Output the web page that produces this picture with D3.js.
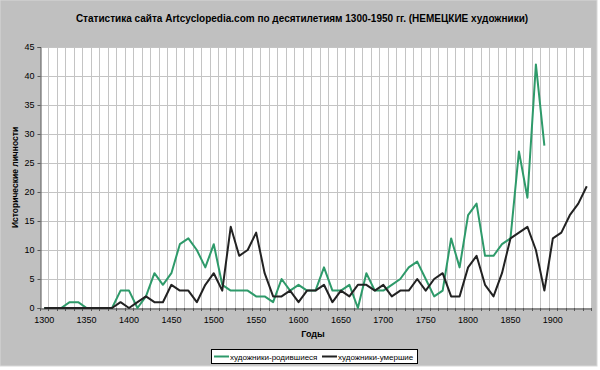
<!DOCTYPE html>
<html>
<head>
<meta charset="utf-8">
<script src="https://cdn.jsdelivr.net/npm/d3@7"></script>
<style>
    body { margin: 0; background: #fff; }
    #chart { width: 600px; height: 370px; }
    text { font-family: "Liberation Sans", Arial, sans-serif; fill: #000; }
</style>
</head>
<body>
<div id="chart"></div>
<script>
//Datos (por década)
const decadas = [1300, 1310, 1320, 1330, 1340, 1350, 1360, 1370, 1380, 1390,
    1400, 1410, 1420, 1430, 1440, 1450, 1460, 1470, 1480, 1490,
    1500, 1510, 1520, 1530, 1540, 1550, 1560, 1570, 1580, 1590,
    1600, 1610, 1620, 1630, 1640, 1650, 1660, 1670, 1680, 1690,
    1700, 1710, 1720, 1730, 1740, 1750, 1760, 1770, 1780, 1790,
    1800, 1810, 1820, 1830, 1840, 1850, 1860, 1870, 1880, 1890,
    1900, 1910, 1920, 1930, 1940];

//художники-родившиеся (1300-1890)
const nacidos = [0, 0, 0, 1, 1, 0, 0, 0, 0, 3,
    3, 0, 2, 6, 4, 6, 11, 12, 10, 7,
    11, 4, 3, 3, 3, 2, 2, 1, 5, 3,
    4, 3, 3, 7, 3, 3, 4, 0, 6, 3,
    3, 4, 5, 7, 8, 5, 2, 3, 12, 7,
    16, 18, 9, 9, 11, 12, 27, 19, 42, 28];

//художники-умершие (1300-1940)
const muertos = [0, 0, 0, 0, 0, 0, 0, 0, 0, 1,
    0, 1, 2, 1, 1, 4, 3, 3, 1, 4,
    6, 3, 14, 9, 10, 13, 6, 2, 2, 3,
    1, 3, 3, 4, 1, 3, 2, 4, 4, 3,
    4, 2, 3, 3, 5, 3, 5, 6, 2, 2,
    7, 9, 4, 2, 6, 12, 13, 14, 10, 3,
    12, 13, 16, 18, 21];

const yTicks = [0, 5, 10, 15, 20, 25, 30, 35, 40, 45];
const xLabels = [1300, 1350, 1400, 1450, 1500, 1550, 1600, 1650, 1700, 1750, 1800, 1850, 1900];

//Colores fijos
const COLOR_NACIDOS = '#2e9a6a',
COLOR_MUERTOS = '#222222',
COLOR_FONDO = '#c0c0c0',
COLOR_GRID = '#c4c4c4';

let margin = {top: 47, right: 9, bottom: 62, left: 40},
    width = 600 - margin.left - margin.right,
    height = 370 - margin.top - margin.bottom;

let svg = d3.select('#chart')
    .append('svg')
        .attr('width', 600)
        .attr('height', 370);

//Fondo gris del gráfico
svg.append('rect')
    .attr('x', 0).attr('y', 0)
    .attr('width', 597).attr('height', 366)
    .attr('fill', COLOR_FONDO)
    .attr('stroke', '#d8d8d8');

svg.append('text')
    .attr('x', 302)
    .attr('y', 22)
    .attr('text-anchor', 'middle')
    .style('font-size', '10px')
    .style('font-weight', 'bold')
    .text('Статистика сайта Artcyclopedia.com по десятилетиям 1300-1950 гг. (НЕМЕЦКИЕ художники)');

let g = svg.append('g')
    .attr('transform', 'translate(' + margin.left + ',' + margin.top + ')');

g.append('rect')
    .attr('width', width)
    .attr('height', height)
    .attr('fill', '#fff');

let x = d3.scaleBand()
    .domain(decadas)
    .range([0, width])
    .padding(0);

let y = d3.scaleLinear()
    .domain([0, 45])
    .range([height, 0]);

let cx = function(d) { return x(d) + x.bandwidth() / 2; };

//Rejilla vertical (límites de categoría)
let bordes = decadas.map(function(d) { return x(d); }).concat([width]);

g.append('g')
    .selectAll('line')
    .data(bordes)
    .enter()
    .append('line')
    .attr('x1', function(d) { return Math.round(d) + 0.5; })
    .attr('x2', function(d) { return Math.round(d) + 0.5; })
    .attr('y1', 0)
    .attr('y2', height)
    .attr('stroke', COLOR_GRID)
    .attr('stroke-width', 1);

//Rejilla horizontal
g.append('g')
    .selectAll('line')
    .data(yTicks)
    .enter()
    .append('line')
    .attr('x1', 0)
    .attr('x2', width)
    .attr('y1', function(d) { return Math.round(y(d)) + 0.5; })
    .attr('y2', function(d) { return Math.round(y(d)) + 0.5; })
    .attr('stroke', COLOR_GRID)
    .attr('stroke-width', 1);

//Eje Y
let yAxis = g.append('g')
    .attr('transform', 'translate(0.5,0)')
    .call(d3.axisLeft(y).tickValues(yTicks).tickSize(3).tickPadding(3));
yAxis.select('.domain').attr('stroke', '#555');
yAxis.selectAll('.tick line').attr('stroke', '#555');
yAxis.selectAll('.tick text')
    .style('font-size', '9px')
    .style('font-family', '"Liberation Sans", Arial, sans-serif');

//Eje X
let xAxis = g.append('g')
    .attr('transform', 'translate(0,' + (height + 0.5) + ')')
    .call(d3.axisBottom(x).tickValues(xLabels).tickSize(0).tickPadding(8));
xAxis.select('.domain').attr('stroke', '#555');
xAxis.selectAll('.tick text')
    .style('font-size', '9px')
    .style('font-family', '"Liberation Sans", Arial, sans-serif');

g.append('g')
    .selectAll('line')
    .data(bordes)
    .enter()
    .append('line')
    .attr('x1', function(d) { return Math.round(d) + 0.5; })
    .attr('x2', function(d) { return Math.round(d) + 0.5; })
    .attr('y1', height)
    .attr('y2', height + 3)
    .attr('stroke', '#555');

//Títulos de ejes
svg.append('text')
    .attr('transform', 'translate(18,' + (margin.top + height / 2) + ') rotate(-90)')
    .attr('text-anchor', 'middle')
    .style('font-size', '8.5px')
    .style('font-weight', 'bold')
    .text('Исторические личности');

svg.append('text')
    .attr('x', 313)
    .attr('y', 337)
    .attr('text-anchor', 'middle')
    .style('font-size', '9px')
    .style('font-weight', 'bold')
    .text('Годы');

//Líneas
let linea = d3.line()
    .x(function(d) { return cx(d.decada); })
    .y(function(d) { return y(d.valor); });

let serieNacidos = nacidos.map(function(v, i) { return {decada: decadas[i], valor: v}; });
let serieMuertos = muertos.map(function(v, i) { return {decada: decadas[i], valor: v}; });

g.append('path')
    .datum(serieNacidos)
    .attr('fill', 'none')
    .attr('stroke', COLOR_NACIDOS)
    .attr('stroke-width', 2)
    .attr('stroke-linejoin', 'round')
    .attr('d', linea);

g.append('path')
    .datum(serieMuertos)
    .attr('fill', 'none')
    .attr('stroke', COLOR_MUERTOS)
    .attr('stroke-width', 2)
    .attr('stroke-linejoin', 'round')
    .attr('d', linea);

//Leyenda
let leyenda = svg.append('g').attr('transform', 'translate(211,349)');
leyenda.append('rect')
    .attr('x', 0.5).attr('y', 0.5)
    .attr('width', 206).attr('height', 14)
    .attr('fill', '#fff')
    .attr('stroke', '#000');

let items = [
    {nombre: 'художники-родившиеся', color: COLOR_NACIDOS, x: 3},
    {nombre: 'художники-умершие', color: COLOR_MUERTOS, x: 111}
];

items.forEach(function(d) {
    leyenda.append('line')
        .attr('x1', d.x).attr('x2', d.x + 15)
        .attr('y1', 7.5).attr('y2', 7.5)
        .attr('stroke', d.color)
        .attr('stroke-width', 2);
    leyenda.append('text')
        .attr('x', d.x + 16)
        .attr('y', 10.5)
        .style('font-size', '8px')
        .text(d.nombre);
});
</script>
</body>
</html>
